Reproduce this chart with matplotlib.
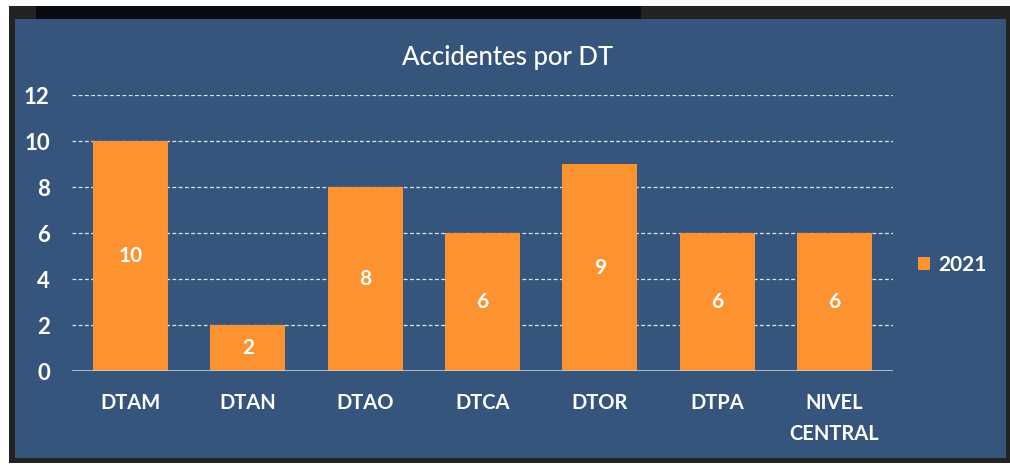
import matplotlib
matplotlib.use("Agg")
import matplotlib.pyplot as plt
from matplotlib.patches import Rectangle

categories = ["DTAM", "DTAN", "DTAO", "DTCA", "DTOR", "DTPA", "NIVEL\nCENTRAL"]
values_2021 = [10, 2, 8, 6, 9, 6, 6]
series_name = "2021"
title = "Accidentes por DT"

W, H = 1010, 465
BLUE = "#36557d"
ORANGE = "#fd9230"
FONT = ["Lato", "DejaVu Sans"]

fig = plt.figure(figsize=(W / 100, H / 100), dpi=100, facecolor="white")

def px_rect(x0, y0, x1, y1, color, z):
    fig.patches.append(Rectangle((x0 / W, 1 - y1 / H), (x1 - x0) / W, (y1 - y0) / H,
                                 transform=fig.transFigure, facecolor=color,
                                 edgecolor="none", zorder=z))

px_rect(9, 6, 1010, 463, "#232323", 0)
px_rect(36, 6, 641, 19, "#080c10", 1)
px_rect(15, 19, 1006, 458, BLUE, 2)

ax = fig.add_axes([72 / W, 1 - 371 / H, (893 - 72) / W, (371 - 95) / H])
ax.set_facecolor("none")
ax.set_zorder(5)

x = range(len(categories))
bars = ax.bar(x, values_2021, width=0.64, color=ORANGE, zorder=3, label=series_name)
for xi, v in zip(x, values_2021):
    ax.text(xi, v / 2, str(v), ha="center", va="center", color="white",
            fontsize=15, fontweight="bold", family=FONT, zorder=4)

ax.set_ylim(0, 12)
ax.set_xlim(-0.5, len(categories) - 0.5)
ax.set_yticks(range(0, 13, 2))
for yv in range(2, 13, 2):
    ax.axhline(yv, color="white", lw=0.9, ls=(0, (3, 2)), alpha=0.85, zorder=1)
ax.axhline(0, color="#c8ccd2", lw=1.2, zorder=4)

for s in ax.spines.values():
    s.set_visible(False)
ax.tick_params(axis="both", length=0, colors="white")
ax.set_xticks(list(x))
ax.set_xticklabels(categories, fontsize=14.5, fontweight="bold", family=FONT,
                   color="white", linespacing=1.65, va="top")
ax.tick_params(axis="x", pad=16)
ax.tick_params(axis="y", pad=16)
for lbl in ax.get_yticklabels():
    lbl.set_fontsize(16)
    lbl.set_fontweight("bold")
    lbl.set_family(FONT)
    lbl.set_color("white")
    lbl.set_horizontalalignment("right")

fig.text(508 / W, 1 - 57 / H, title, ha="center", va="center", color="white",
         fontsize=18.5, fontweight="medium", family=FONT, zorder=6)

leg = fig.legend(handles=[bars], labels=[series_name], loc="center left",
                 bbox_to_anchor=(899 / W, 1 - 265 / H), frameon=False,
                 handlelength=0.6, handleheight=0.6, handletextpad=0.4,
                 prop={"family": FONT, "size": 15, "weight": "bold"})
for t in leg.get_texts():
    t.set_color("white")

fig.savefig("out.png", dpi=100, facecolor="white")
